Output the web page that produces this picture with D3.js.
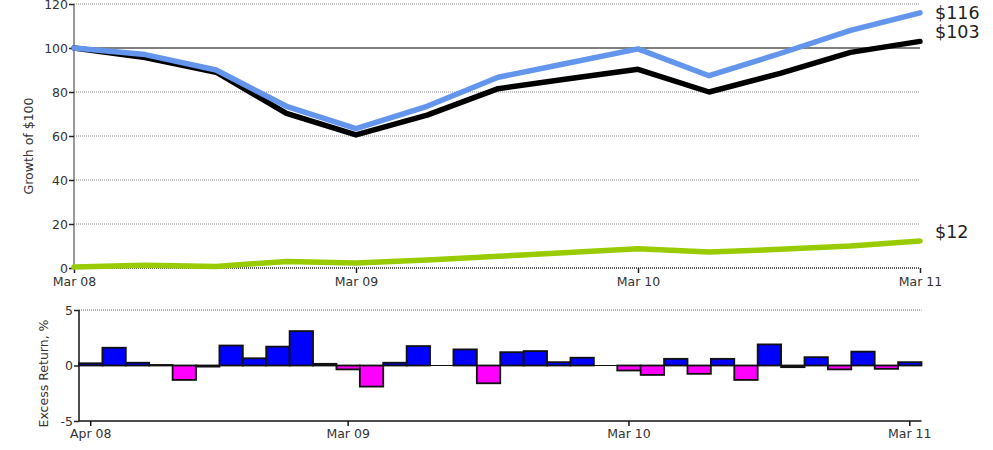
<!DOCTYPE html>
<html>
<head>
<meta charset="utf-8">
<script src="https://cdn.jsdelivr.net/npm/d3@7"></script>
<style>
  html, body { margin: 0; padding: 0; background: #fff; }
  svg { display: block; font-family: "DejaVu Sans", Verdana, sans-serif; }
</style>
</head>
<body>
<svg id="chart" width="993" height="450"></svg>
<script>
// ---------- DATA ----------
const quarters = ["2008-03","2008-06","2008-09","2008-12","2009-03","2009-06","2009-09","2009-12","2010-03","2010-06","2010-09","2010-12","2011-03"];
const fundGrowth  = [100, 97, 90, 73.5, 63.3, 73.5, 86.7, 93.2, 99.6, 87.4, 97.5, 108, 116];
const benchGrowth = [100, 95.7, 89, 70.3, 60.5, 69.5, 81.5, 86, 90.3, 80, 88.5, 98, 103];
const cashGrowth  = [0.4, 1.2, 0.7, 3.0, 2.3, 3.6, 5.3, 7.0, 8.8, 7.3, 8.5, 10, 12.3];
const seriesColors = ["#6495ED", "#000000", "#99CC00"];
const growthTicks = [0, 20, 40, 60, 80, 100, 120];
const growthTickDates = ["2008-03","2009-03","2010-03","2011-03"];

const months = ["2008-04","2008-05","2008-06","2008-07","2008-08","2008-09","2008-10","2008-11","2008-12",
  "2009-01","2009-02","2009-03","2009-04","2009-05","2009-06","2009-07","2009-08","2009-09","2009-10","2009-11","2009-12",
  "2010-01","2010-02","2010-03","2010-04","2010-05","2010-06","2010-07","2010-08","2010-09","2010-10","2010-11","2010-12",
  "2011-01","2011-02","2011-03"];
const excessReturn = [0.2, 1.6, 0.25, 0.05, -1.3, -0.1, 1.8, 0.65, 1.7, 3.1, 0.15, -0.35,
  -1.9, 0.25, 1.75, 0.0, 1.45, -1.6, 1.2, 1.3, 0.3, 0.7, 0.0, -0.45,
  -0.85, 0.6, -0.75, 0.6, -1.3, 1.9, -0.15, 0.75, -0.35, 1.25, -0.3, 0.3];
const excessTicks = [-5, 0, 5];
const excessTickMonths = ["2008-04","2009-03","2010-03","2011-03"];

// ---------- SETUP ----------
const svg = d3.select("#chart");
const parse = d3.timeParse("%Y-%m");
const fmt = d3.timeFormat("%b %y");
const numFmt = d => String(d);

// ---------- TOP CHART ----------
const tL = 74, tR = 920, tT = 4, tB = 268;
const x1 = d3.scaleTime().domain([parse(quarters[0]), parse(quarters[quarters.length-1])]).range([tL, tR]);
const y1 = d3.scaleLinear().domain([0, 120]).range([tB, tT]);

const gTop = svg.append("g");

// grid
gTop.append("g").selectAll("line").data(growthTicks.filter(d => d !== 0))
  .join("line")
  .attr("x1", tL).attr("x2", tR)
  .attr("y1", d => y1(d)).attr("y2", d => y1(d))
  .attr("stroke", d => d === 100 ? "#555" : "#888")
  .attr("stroke-width", d => d === 100 ? 1.3 : 1)
  .attr("stroke-dasharray", d => d === 100 ? null : "1,1");

// y axis
const yAx1 = gTop.append("g").attr("transform", `translate(${tL},0)`)
  .call(d3.axisLeft(y1).tickValues(growthTicks).tickFormat(numFmt).tickSize(5).tickPadding(1));
yAx1.select(".domain").attr("stroke", "#777").attr("stroke-width", 1.5).attr("d", `M0,${tT}V${tB}`);
yAx1.selectAll(".tick line").attr("stroke", "#222").attr("stroke-width", 1.5);
yAx1.selectAll("text").attr("font-size", 12.5).attr("fill", "#333").attr("font-family", "DejaVu Sans, sans-serif");

// x axis
const xAx1 = gTop.append("g").attr("transform", `translate(0,${tB})`)
  .call(d3.axisBottom(x1).tickValues(growthTickDates.map(parse)).tickFormat(fmt).tickSize(5).tickPadding(4));
xAx1.select(".domain").attr("stroke", "#222").attr("stroke-width", 1.5).attr("stroke-dasharray", "1,1").attr("d", `M${tL},0H${tR}`);
xAx1.selectAll(".tick line").attr("stroke", "#222").attr("stroke-width", 1.5);
xAx1.selectAll("text").attr("font-size", 12.5).attr("fill", "#333").attr("font-family", "DejaVu Sans, sans-serif");

// y title
gTop.append("text")
  .attr("transform", `translate(33,${(tT + tB) / 2 + 10}) rotate(-90)`)
  .attr("text-anchor", "middle").attr("font-size", 12.5).attr("fill", "#333")
  .text("Growth of $100");

// lines
const allSeries = [cashGrowth, benchGrowth, fundGrowth];
const colorsInOrder = [seriesColors[2], seriesColors[1], seriesColors[0]];
const line1 = d3.line().x((d, i) => x1(parse(quarters[i]))).y(d => y1(d));
gTop.append("g").selectAll("path").data(allSeries).join("path")
  .attr("d", d => line1(d))
  .attr("fill", "none")
  .attr("stroke", (d, i) => colorsInOrder[i])
  .attr("stroke-width", 5.5)
  .attr("stroke-linejoin", "round")
  .attr("stroke-linecap", "round");

// end labels
const ends = [fundGrowth, benchGrowth, cashGrowth].map(s => ({ v: s[s.length - 1] }));
ends.forEach(e => { e.y = Math.max(y1(e.v) - 3, 19); });
ends.sort((a, b) => a.y - b.y);
for (let i = 1; i < ends.length; i++) {
  if (ends[i].y - ends[i-1].y < 19) ends[i].y = ends[i-1].y + 19;
}
gTop.append("g").selectAll("text").data(ends).join("text")
  .attr("x", tR + 15).attr("y", d => d.y)
  .attr("font-size", 17.5).attr("fill", "#222")
  .text(d => "$" + Math.round(d.v));

// ---------- BOTTOM CHART ----------
const bL = 79, bR = 921.5, bT = 310, bB = 421;
const x2 = d3.scaleBand().domain(months).range([bL, bR]).padding(0);
const y2 = d3.scaleLinear().domain([-5, 5]).range([bB, bT]);
const gBot = svg.append("g");

// grid at 5
gBot.append("line").attr("x1", bL).attr("x2", bR).attr("y1", y2(5)).attr("y2", y2(5))
  .attr("stroke", "#666").attr("stroke-dasharray", "1,1");

// bars
gBot.append("g").selectAll("rect").data(excessReturn).join("rect")
  .attr("x", (d, i) => x2(months[i]))
  .attr("width", x2.bandwidth())
  .attr("y", d => y2(Math.max(0, d)))
  .attr("height", d => Math.abs(y2(d) - y2(0)))
  .attr("fill", d => d >= 0 ? "#0000FF" : "#FF00FF")
  .attr("stroke", "#111").attr("stroke-width", 1.8);

// zero line
gBot.append("line").attr("x1", bL).attr("x2", bR).attr("y1", y2(0)).attr("y2", y2(0))
  .attr("stroke", "#111").attr("stroke-width", 1);

// y axis
const yAx2 = gBot.append("g").attr("transform", `translate(${bL},0)`)
  .call(d3.axisLeft(y2).tickValues(excessTicks).tickFormat(numFmt).tickSize(5).tickPadding(1));
yAx2.select(".domain").attr("stroke", "#111").attr("stroke-width", 1.5).attr("d", `M0,${bT}V${bB}`);
yAx2.selectAll(".tick line").attr("stroke", "#222").attr("stroke-width", 1.5);
yAx2.selectAll("text").attr("font-size", 12.5).attr("fill", "#333").attr("font-family", "DejaVu Sans, sans-serif");

// x axis
const xAx2 = gBot.append("g").attr("transform", `translate(0,${bB})`)
  .call(d3.axisBottom(x2).tickValues(excessTickMonths).tickFormat(m => fmt(parse(m))).tickSize(5).tickPadding(3));
xAx2.select(".domain").attr("stroke", "#111").attr("stroke-width", 1.5).attr("d", `M${bL},0H${bR}`);
xAx2.selectAll(".tick line").attr("stroke", "#111").attr("stroke-width", 1.5);
xAx2.selectAll("text").attr("font-size", 12.5).attr("fill", "#333").attr("font-family", "DejaVu Sans, sans-serif");

// y title
gBot.append("text")
  .attr("transform", `translate(48,${(bT + bB) / 2 + 8}) rotate(-90)`)
  .attr("text-anchor", "middle").attr("font-size", 12.5).attr("fill", "#333")
  .text("Excess Return, %");
</script>
</body>
</html>
